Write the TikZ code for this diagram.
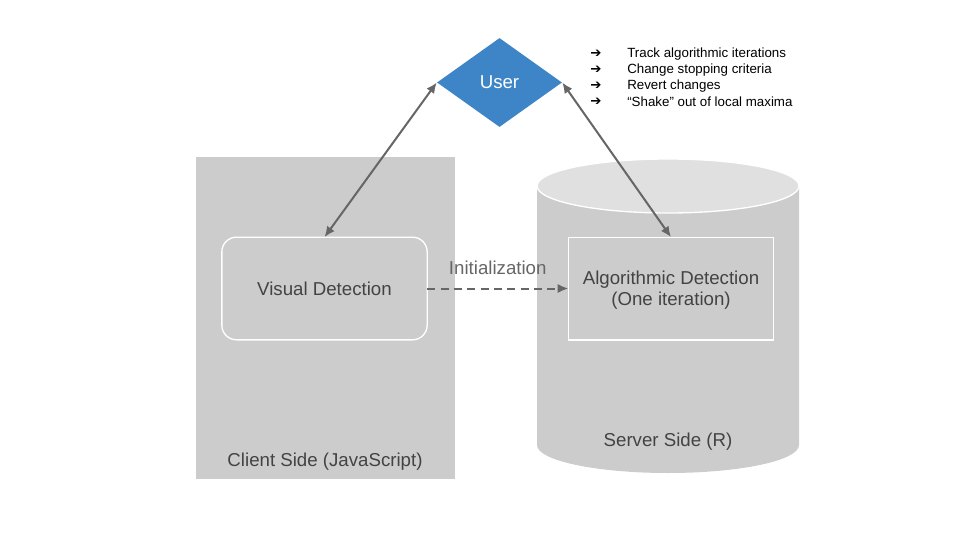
\documentclass[tikz,border=0pt]{standalone}
\usepackage{fontspec}
\setmainfont{Liberation Sans}
\newfontfamily\symfont{DejaVu Sans}
\usepackage{tikz}
\usetikzlibrary{arrows,arrows.meta,positioning,shapes}

\definecolor{boxgray}{HTML}{CCCCCC}
\definecolor{topgray}{HTML}{E0E0E0}
\definecolor{txtgray}{HTML}{434343}
\definecolor{lingray}{HTML}{666666}
\definecolor{userblue}{HTML}{3D85C6}

\begin{document}
\begin{tikzpicture}[x=0.75pt,y=0.75pt]

    \tikzstyle{part} = [draw=white, line width=1pt, fill=boxgray,
    text=txtgray, font=\fontsize{14}{16}\selectfont, align=center,
    minimum width=154pt, minimum height=77pt, inner sep=0pt, outer sep=0pt]

    \tikzstyle{side} = [text=txtgray, font=\fontsize{14}{17}\selectfont]

    \tikzstyle{user} = [diamond, fill=userblue, text=white, inner sep=0pt,
    minimum width=93.75pt, minimum height=66.75pt,
    font=\fontsize{14}{17}\selectfont]

    \tikzstyle{link} = [draw=lingray, line width=1.5pt]

    \tikzstyle{item} = [anchor=west, inner sep=0pt,
    font=\fontsize{10}{12}\selectfont]

    \tikzstyle{bul} = [inner sep=0pt, font=\symfont\fontsize{10}{12}\selectfont]

    \useasboundingbox (0,0) rectangle (960,540);

    % client side
    \fill[boxgray] (196,61) rectangle (455,383);

    % server side
    \fill[boxgray] (537,354) -- (537,95)
      arc[start angle=180, end angle=360, x radius=131, y radius=28]
      -- (799,354) -- cycle;
    \filldraw[fill=topgray, draw=white, line width=1pt]
      (668,354) ellipse [x radius=131, y radius=27];

    \draw
    (324.5,251.5) node [part, rounded corners=11pt] (vis) {Visual Detection}
    (671,251.5) node [part] (algo) {\\[-3pt]Algorithmic Detection\\(One iteration)}
    (325,78) node [side] (client) {Client Side (JavaScript)}
    (668,98) node [side] (server) {Server Side (R)}
    (499.5,457.5) node [user] (usr) {User}
    ;

    \draw
    (596,486) node [bul] (b1) {➔}
    (596,470) node [bul] (b2) {➔}
    (596,454) node [bul] (b3) {➔}
    (596,438) node [bul] (b4) {➔}
    (627,486) node [item] (t1) {Track algorithmic iterations}
    (627,470) node [item] (t2) {Change stopping criteria}
    (627,454) node [item] (t3) {Revert changes}
    (627,438) node [item] (t4) {“Shake” out of local maxima}
    ;

    \draw [link, {Latex[length=8pt,width=7pt]}-{Latex[length=8pt,width=7pt]}]
      (vis.north) -- (usr.west);
    \draw [link, {Latex[length=8pt,width=7pt]}-{Latex[length=8pt,width=7pt]}]
      (usr.east) -- (algo.north);
    \draw [link, -{Latex[length=8pt,width=7pt]}, dash pattern=on 6pt off 4pt]
      (vis.east) -- (algo.west)
      node [midway, above=6pt, text=lingray,
      font=\fontsize{14}{17}\selectfont] {Initialization};
  \end{tikzpicture}
\end{document}
